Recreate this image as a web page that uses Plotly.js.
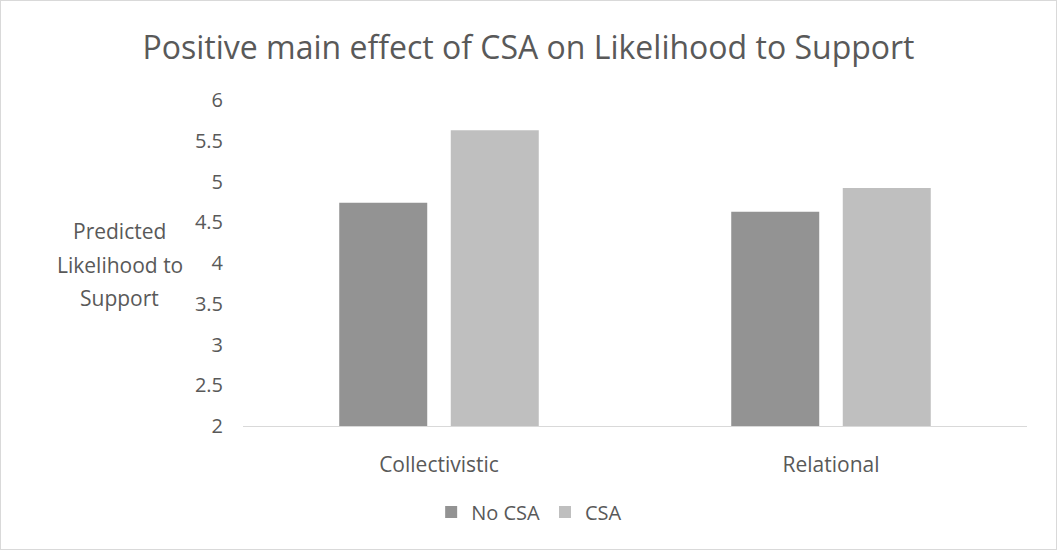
<!DOCTYPE html>
<html>
<head>
<meta charset="utf-8">
<script src="https://cdn.plot.ly/plotly-3.0.1.min.js"></script>
<style>
  html, body { margin: 0; padding: 0; background: #ffffff; }
  #chart { width: 1057px; height: 550px; box-sizing: border-box; border: 1px solid #d9d9d9; }
</style>
</head>
<body>
<div id="chart"></div>
<script>
// Predicted likelihood to support, by orientation and CSA condition
const categories = ['Collectivistic', 'Relational'];
const seriesNames = ['No CSA', 'CSA'];
const noCsaValues = [4.74, 4.63];
const csaValues = [5.63, 4.92];
const yTickValues = [2, 2.5, 3, 3.5, 4, 4.5, 5, 5.5, 6];
const yTickLabels = ['2', '2.5', '3', '3.5', '4', '4.5', '5', '5.5', '6'];
const yTitleLines = ['Predicted', 'Likelihood to', 'Support'];

const textColor = '#595959';
const fontFamily = 'Open Sans, Calibri, sans-serif';

const traces = [
  {
    type: 'bar', name: seriesNames[0], x: categories, y: noCsaValues,
    marker: { color: '#939393' }, hoverinfo: 'x+y+name'
  },
  {
    type: 'bar', name: seriesNames[1], x: categories, y: csaValues,
    marker: { color: '#bfbfbf' }, hoverinfo: 'x+y+name'
  }
];

// The y-axis title is set horizontally, one annotation per line
const titleLineY = [0.597, 0.493, 0.392];
const yTitleAnnotations = yTitleLines.map((line, i) => ({
  text: line,
  xref: 'paper', yref: 'paper',
  x: -0.157, y: titleLineY[i], xanchor: 'center', yanchor: 'middle',
  showarrow: false, align: 'center',
  font: { family: fontFamily, size: 21, color: textColor }
}));

const layout = {
  width: 1055, height: 548,
  margin: { l: 242, r: 29, t: 99, b: 123, pad: 0 },
  paper_bgcolor: '#ffffff', plot_bgcolor: '#ffffff',
  font: { family: fontFamily, color: textColor, size: 20 },
  title: {
    text: 'Positive main effect of CSA on Likelihood to Support',
    font: { family: fontFamily, size: 32, color: textColor },
    x: 0.5, xref: 'container', xanchor: 'center',
    y: 0.914, yref: 'container', yanchor: 'middle'
  },
  barmode: 'group',
  bargap: 0.431,
  bargroupgap: 0.211,
  xaxis: {
    type: 'category',
    showgrid: false, zeroline: false,
    showline: true, linecolor: '#d9d9d9', linewidth: 1,
    ticks: '', ticklabelstandoff: 20,
    tickfont: { family: fontFamily, size: 21, color: textColor }
  },
  yaxis: {
    range: [2, 6],
    tickvals: yTickValues, ticktext: yTickLabels,
    showgrid: false, zeroline: false, showline: false,
    ticks: '', ticklabelstandoff: 19,
    tickfont: { family: fontFamily, size: 20, color: textColor }
  },
  showlegend: true,
  legend: {
    orientation: 'h',
    x: 0.365, xanchor: 'center',
    y: -0.264, yanchor: 'middle',
    font: { family: fontFamily, size: 20, color: textColor },
    itemwidth: 30, itemsizing: 'constant',
    traceorder: 'normal'
  },
  annotations: yTitleAnnotations
};

Plotly.newPlot('chart', traces, layout, { displayModeBar: false, staticPlot: true });
</script>
</body>
</html>
